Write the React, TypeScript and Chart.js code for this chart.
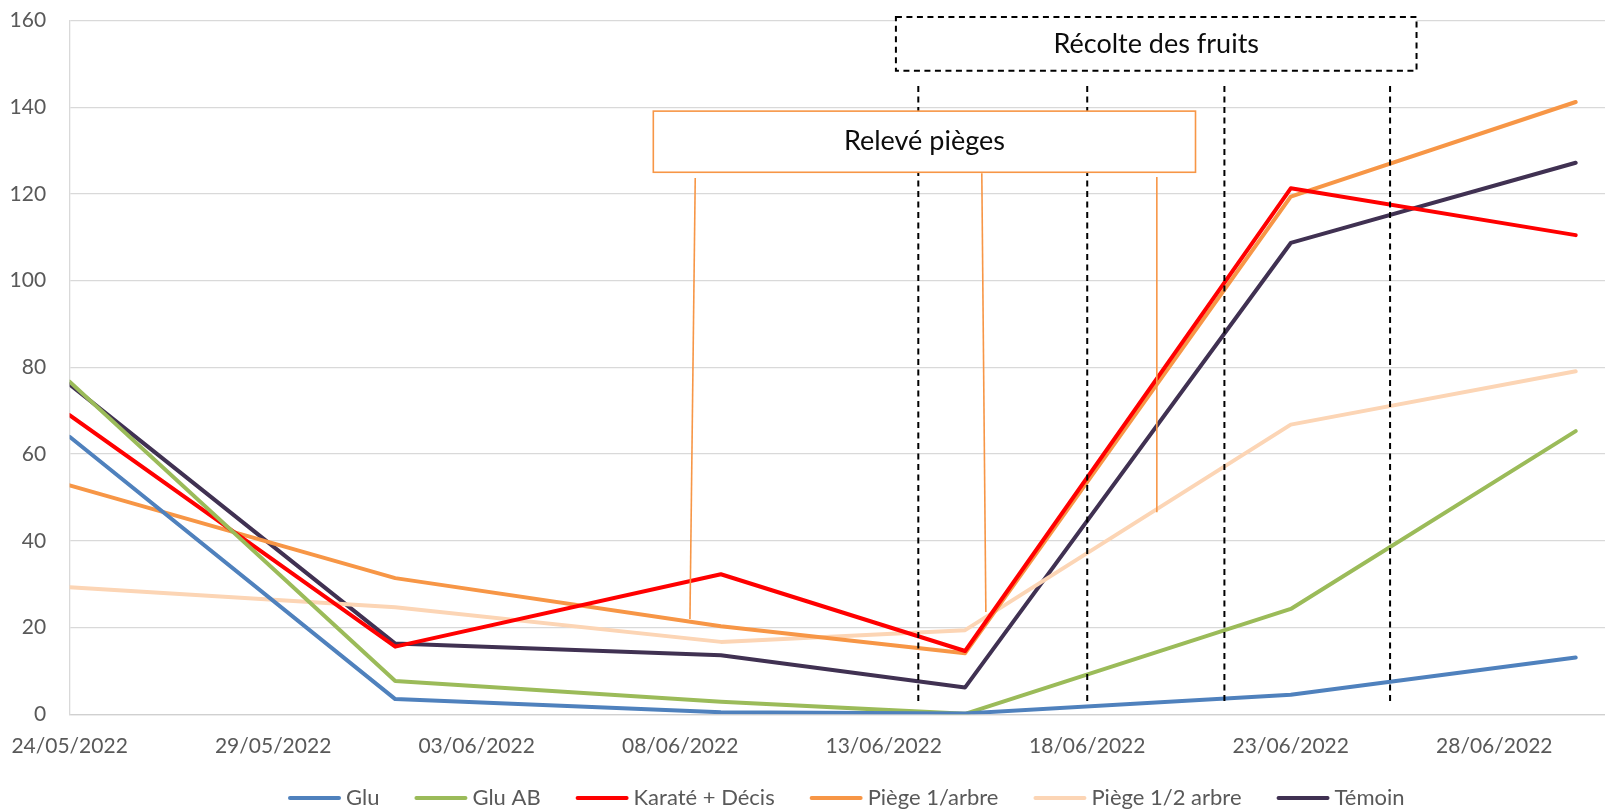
import React, { useEffect, useRef } from 'react';
import { Chart, registerables } from 'chart.js';

Chart.register(...registerables);

// ---------- data ----------
const axisStartDate = '24/05/2022';
const sampleDates = ['24/05/2022', '01/06/2022', '09/06/2022', '15/06/2022', '23/06/2022', '30/06/2022'];
const seriesNames = ['Glu', 'Glu AB', 'Karaté + Décis', 'Piège 1/arbre', 'Piège 1/2 arbre', 'Témoin'];
const gluValues = [64.0, 3.5, 0.5, 0.2, 4.5, 13.1];
const gluAbValues = [76.7, 7.7, 2.9, 0.1, 24.3, 65.3];
const karateValues = [69.0, 15.6, 32.3, 14.6, 121.3, 110.5];
const piege1Values = [52.8, 31.4, 20.3, 14.1, 119.4, 141.2];
const piegeDemiValues = [29.3, 24.7, 16.7, 19.4, 66.8, 79.1];
const temoinValues = [76.1, 16.3, 13.6, 6.2, 108.7, 127.2];
const seriesColors = ['#4F81BD', '#9BBB59', '#FF0000', '#F79646', '#FCD5B5', '#403152'];

const yTickValues = [0, 20, 40, 60, 80, 100, 120, 140, 160];
const xTickDays = [0, 5, 10, 15, 20, 25, 30, 35];
const xAxisEndDay = 37.72;

// annotations (x in days after axis start, y in chart units)
const trapBox = { label: 'Relevé pièges', fromDay: 14.34, toDay: 27.66, top: 139.1, bottom: 125.0 };
const trapPointerTops = [[15.37, 123.7], [22.41, 124.8], [26.71, 123.9]];
const trapPointerEnds = [[15.24, 22.0], [22.51, 23.6], [26.71, 46.6]];
const harvestBox = { label: 'Récolte des fruits', fromDay: 20.3, toDay: 33.09, top: 160.8, bottom: 148.4 };
const harvestDays = [20.85, 25.0, 28.37, 32.44];
const harvestLineTop = 144.9;
const harvestLineBottom = 2.7;

// ---------- helpers ----------
const DAY_MS = 86400000;
function parseDate(s: string): number {
  const [d, m, y] = s.split('/').map(Number);
  return Date.UTC(y, m - 1, d);
}
const startMs = parseDate(axisStartDate);
const dayOf = (s: string) => Math.round((parseDate(s) - startMs) / DAY_MS);
const pad = (n: number) => String(n).padStart(2, '0');
function formatDay(v: number): string {
  const d = new Date(startMs + v * DAY_MS);
  return `${pad(d.getUTCDate())}/${pad(d.getUTCMonth() + 1)}/${d.getUTCFullYear()}`;
}

const allSeries = [gluValues, gluAbValues, karateValues, piege1Values, piegeDemiValues, temoinValues];
const FONT = 'Lato';
const GREY = '#595959';

const notesPlugin = {
  id: 'fieldNotes',
  afterDatasetsDraw(chart: any) {
    const { ctx } = chart;
    const x = chart.scales.x;
    const y = chart.scales.y;
    const px = (d: number) => x.getPixelForValue(d);
    const py = (v: number) => y.getPixelForValue(v);
    ctx.save();
    // harvest dashed lines
    ctx.strokeStyle = '#000000';
    ctx.lineWidth = 2;
    ctx.setLineDash([6, 4.5]);
    harvestDays.forEach((d) => {
      ctx.beginPath();
      ctx.moveTo(px(d), py(harvestLineTop));
      ctx.lineTo(px(d), py(harvestLineBottom));
      ctx.stroke();
    });
    // harvest box
    {
      const l = px(harvestBox.fromDay), r = px(harvestBox.toDay);
      const t = py(harvestBox.top), b = py(harvestBox.bottom);
      ctx.fillStyle = '#ffffff';
      ctx.fillRect(l, t, r - l, b - t);
      ctx.strokeRect(l, t, r - l, b - t);
      ctx.setLineDash([]);
      ctx.fillStyle = '#0d0d0d';
      ctx.font = `27px ${FONT}`;
      ctx.textAlign = 'center';
      ctx.textBaseline = 'middle';
      ctx.fillText(harvestBox.label, (l + r) / 2, (t + b) / 2);
    }
    // trap box
    {
      const l = px(trapBox.fromDay), r = px(trapBox.toDay);
      const t = py(trapBox.top), b = py(trapBox.bottom);
      ctx.setLineDash([]);
      ctx.fillStyle = '#ffffff';
      ctx.fillRect(l, t, r - l, b - t);
      ctx.strokeStyle = '#F79646';
      ctx.lineWidth = 1.6;
      ctx.strokeRect(l, t, r - l, b - t);
      ctx.fillStyle = '#0d0d0d';
      ctx.font = `27px ${FONT}`;
      ctx.textAlign = 'center';
      ctx.textBaseline = 'middle';
      ctx.fillText(trapBox.label, (l + r) / 2, (t + b) / 2);
      trapPointerTops.forEach((p, i) => {
        const e = trapPointerEnds[i];
        ctx.beginPath();
        ctx.moveTo(px(p[0]), py(p[1]));
        ctx.lineTo(px(e[0]), py(e[1]));
        ctx.stroke();
      });
    }
    ctx.restore();
  },
};

const legendPlugin = {
  id: 'bottomLegend',
  afterDraw(chart: any) {
    const { ctx, chartArea } = chart;
    ctx.save();
    ctx.font = `22px ${FONT}`;
    const lineLen = 53, gap = 5, spacing = 35;
    const items = chart.data.datasets.map((ds: any) => ({
      label: ds.label as string,
      color: ds.borderColor as string,
      w: ctx.measureText(ds.label).width,
    }));
    const total = items.reduce((s: number, it: any) => s + lineLen + gap + it.w, 0) + spacing * (items.length - 1);
    let cx = (chartArea.left + chartArea.right) / 2 + 9 - total / 2;
    const yc = chart.height - 12;
    ctx.textBaseline = 'middle';
    ctx.textAlign = 'left';
    items.forEach((it: any) => {
      ctx.strokeStyle = it.color;
      ctx.lineWidth = 4;
      ctx.lineCap = 'round';
      ctx.beginPath();
      ctx.moveTo(cx + 2, yc);
      ctx.lineTo(cx + lineLen - 2, yc);
      ctx.stroke();
      ctx.fillStyle = GREY;
      ctx.fillText(it.label, cx + lineLen + gap, yc);
      cx += lineLen + gap + it.w + spacing;
    });
    ctx.restore();
  },
};

export default function App() {
  const canvasRef = useRef<HTMLCanvasElement>(null);

  useEffect(() => {
    document.body.style.margin = '0';
    const xDays = sampleDates.map(dayOf);
    const datasets = seriesNames.map((name, i) => ({
      label: name,
      data: allSeries[i].map((v, j) => ({ x: xDays[j], y: v })),
      borderColor: seriesColors[i],
      backgroundColor: seriesColors[i],
      borderWidth: 4,
      pointRadius: 0,
      pointHoverRadius: 0,
      fill: false,
      tension: 0,
      borderJoinStyle: 'round' as const,
      borderCapStyle: 'round' as const,
    }));

    const chart = new Chart(canvasRef.current as HTMLCanvasElement, {
      type: 'line',
      data: { datasets },
      options: {
        animation: false,
        responsive: false,
        devicePixelRatio: 1,
        layout: { padding: { left: 0, right: 0, top: 20.5, bottom: 51.5 } },
        plugins: {
          legend: { display: false },
          tooltip: { enabled: false },
        },
        scales: {
          x: {
            type: 'linear',
            min: 0,
            max: xAxisEndDay,
            afterBuildTicks: (scale: any) => {
              scale.ticks = xTickDays.map((v) => ({ value: v }));
            },
            afterFit: (scale: any) => {
              scale.height = 44.2;
              scale.paddingLeft = 0;
              scale.paddingRight = 0;
            },
            grid: { display: false, drawTicks: false },
            border: { display: true, color: '#D0D0D0', width: 1.3 },
            ticks: {
              autoSkip: false,
              maxRotation: 0,
              padding: 19,
              color: GREY,
              font: { family: FONT, size: 21 },
              callback: (v: any) => formatDay(Number(v)),
            },
          },
          y: {
            type: 'linear',
            min: 0,
            max: 160,
            afterBuildTicks: (scale: any) => {
              scale.ticks = yTickValues.map((v) => ({ value: v }));
            },
            afterFit: (scale: any) => {
              scale.width = 69.6;
              scale.paddingTop = 0;
              scale.paddingBottom = 0;
            },
            grid: { color: '#D9D9D9', lineWidth: 1.3, drawTicks: false },
            border: { display: true, color: '#D9D9D9', width: 1.3 },
            ticks: {
              padding: 23.5,
              color: GREY,
              font: { family: FONT, size: 21 },
            },
          },
        },
      },
      plugins: [notesPlugin, legendPlugin],
    });
    return () => chart.destroy();
  }, []);

  return <canvas ref={canvasRef} width={1605} height={810} style={{ display: 'block' }} />;
}
